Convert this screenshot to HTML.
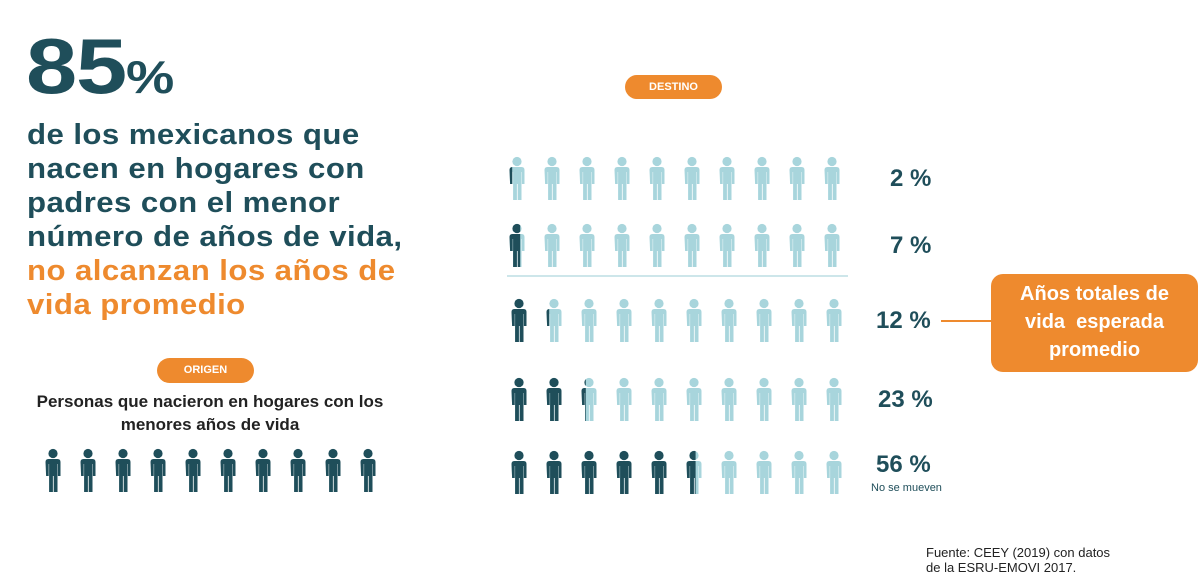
<!DOCTYPE html>
<html><head><meta charset="utf-8">
<style>
html,body{margin:0;padding:0;background:#fff;}
body{width:1200px;height:579px;position:relative;overflow:hidden;font-family:"Liberation Sans",sans-serif;}
.abs{position:absolute;}
#head{left:27px;top:118px;color:#1f4e5a;font-weight:bold;font-size:29px;line-height:34px;letter-spacing:0.4px;transform:scaleX(1.075);transform-origin:0 0;white-space:nowrap;}
#head .or{color:#ee8a2e;}
#big{left:26px;top:26px;color:#1f4e5a;font-weight:bold;font-size:78px;line-height:80px;letter-spacing:-1px;transform:scaleX(1.18);transform-origin:0 0;white-space:nowrap;}
#big span{font-size:46px;letter-spacing:0;}
.pill{background:#ee8a2e;color:#fff;font-weight:bold;font-size:11px;border-radius:13px;text-align:center;}
#sub{left:20px;top:390px;width:380px;text-align:center;font-weight:bold;font-size:17px;line-height:23px;color:#222;}
.pct{color:#1f4e5a;font-weight:bold;font-size:24px;}
#callout{left:991px;top:274px;width:207px;height:98px;background:#ee8a2e;border-radius:12px;color:#fff;font-weight:bold;font-size:20px;line-height:28px;text-align:center;padding-top:6px;box-sizing:border-box;}
#src{left:926px;top:545px;font-size:13px;line-height:15px;color:#222;}
</style></head>
<body>
<div id="big" class="abs">85<span>%</span></div>
<div id="head" class="abs">de los mexicanos que<br>nacen en hogares con<br>padres con el menor<br>número de años de vida,<br><span class="or">no alcanzan los años de<br>vida promedio</span></div>
<div class="abs pill" style="left:625px;top:75px;width:97px;height:24px;line-height:24px;">DESTINO</div>
<div class="abs pill" style="left:157px;top:358px;width:97px;height:25px;line-height:25px;">ORIGEN</div>
<div id="sub" class="abs">Personas que nacieron en hogares con los<br>menores años de vida</div>
<div id="callout" class="abs">Años totales de<br>vida&nbsp; esperada<br>promedio</div>
<div id="src" class="abs">Fuente: CEEY (2019) con datos<br>de la ESRU-EMOVI 2017.</div>
<svg id="chart" class="abs" style="left:0;top:0" width="1200" height="579"></svg>
<script>
const rowValues=[2,7,12,23,56];
const rowLabels=["2 %","7 %","12 %","23 %","56 %"];
const iconsPerRow=10;
const originCount=10;

const NS="http://www.w3.org/2000/svg";
const svg=document.getElementById('chart');
const DARK="#1f4e5a",LIGHT="#a8d5dc";
const rowY=i=>[157,224,299,378,451][i];
const colX=(r,j)=>(r<2?517:519)+j*35;
function personPath(cx,top){
  const x=cx;
  return `M${x-7.5} ${top+13} q0 -3 3 -3 h9 q3 0 3 3 v14 h-2.6 v-12 h-0.4 v28 h-3.8 v-16 h-0.8 v16 h-3.8 v-28 h-0.4 v12 h-2.6 z`;
}
function icon(cx,top,fill,name){
  const g=document.createElementNS(NS,'g');
  
  
  const head=document.createElementNS(NS,'circle');
  head.setAttribute('cx',cx);head.setAttribute('cy',top+4.5);head.setAttribute('r',4.6);
  head.setAttribute('fill',fill);
  const body=document.createElementNS(NS,'path');
  body.setAttribute('d',personPath(cx,top));body.setAttribute('fill',fill);
  g.appendChild(head);g.appendChild(body);
  return g;
}
const defs=document.createElementNS(NS,'defs');svg.appendChild(defs);
const labelLeft=[890,890,876,878,876];
const labelTopOff=[8,8,8,8,0];
rowValues.forEach((v,r)=>{
  const filled=v/100*iconsPerRow;
  for(let j=0;j<iconsPerRow;j++){
    const cx=colX(r,j),top=rowY(r);
    svg.appendChild(icon(cx,top,LIGHT,'destino-icon'));
    const frac=Math.max(0,Math.min(1,filled-j));
    if(frac>0){
      const id='c'+r+'_'+j;
      const cp=document.createElementNS(NS,'clipPath');cp.setAttribute('id',id);
      const rc=document.createElementNS(NS,'rect');
      rc.setAttribute('x',cx-8);rc.setAttribute('y',top-1);rc.setAttribute('width',16*frac);rc.setAttribute('height',46);
      cp.appendChild(rc);defs.appendChild(cp);
      const d=icon(cx,top,DARK,'destino-icon-filled');
      d.setAttribute('clip-path','url(#'+id+')');
      svg.appendChild(d);
    }
  }
  const t=document.createElement('div');
  t.className='abs pct';
  t.style.left=labelLeft[r]+'px';
  t.style.top=(rowY(r)+labelTopOff[r])+'px';
  t.textContent=rowLabels[r];
  
  
  document.body.appendChild(t);
});
for(let j=0;j<originCount;j++){
  svg.appendChild(icon(53+j*35,449,DARK,'origen-icon'));
}
const sep=document.createElementNS(NS,'line');
sep.setAttribute('x1',507);sep.setAttribute('x2',848);sep.setAttribute('y1',276);sep.setAttribute('y2',276);
sep.setAttribute('stroke','#cde6ea');sep.setAttribute('stroke-width',2);


svg.appendChild(sep);
const con=document.createElementNS(NS,'line');
con.setAttribute('x1',941);con.setAttribute('x2',991);con.setAttribute('y1',321);con.setAttribute('y2',321);
con.setAttribute('stroke','#ee8a2e');con.setAttribute('stroke-width',2);


svg.appendChild(con);
const nm=document.createElement('div');
nm.className='abs';nm.style.cssText='left:871px;top:482px;font-size:11px;color:#1f4e5a;';
nm.textContent='No se mueven';


document.body.appendChild(nm);
</script>
</body></html>
